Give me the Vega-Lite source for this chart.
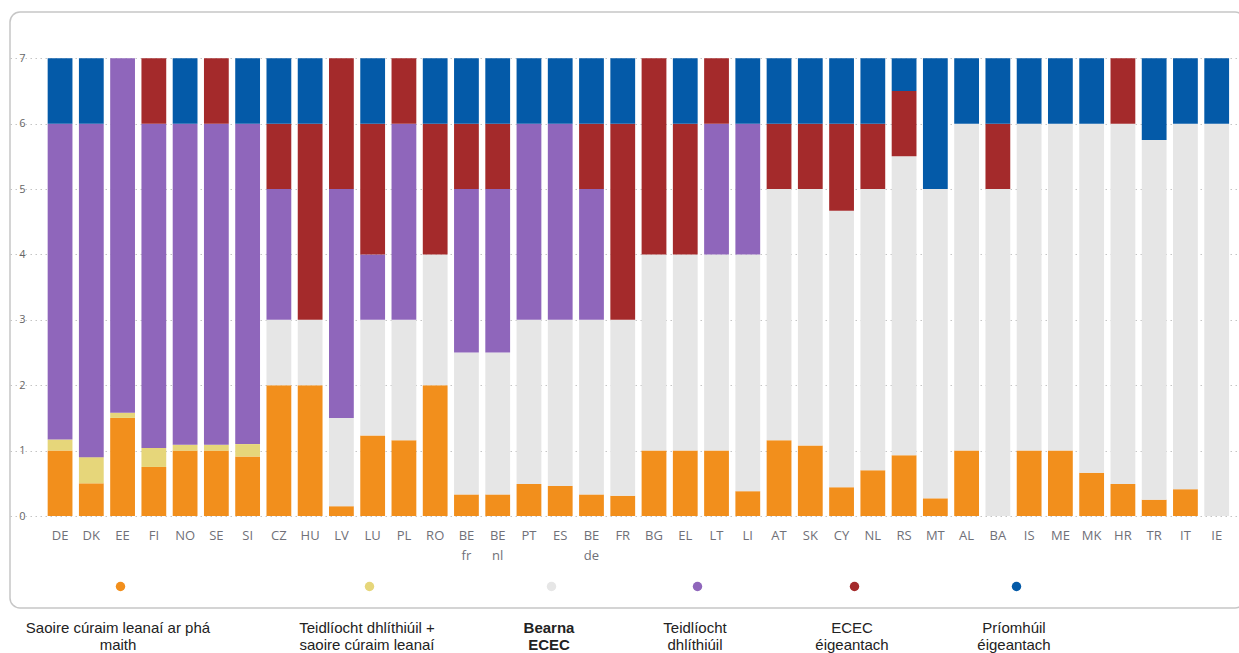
{
  "$schema": "https://vega.github.io/schema/vega-lite/v6.json",
  "width": 1235,
  "height": 596,
  "padding": {"left": 10, "top": 12, "right": 0, "bottom": 0},
  "autosize": {"type": "pad"},
  "background": "white",
  "config": {
    "view": {"stroke": "#c6c6c6", "strokeWidth": 1.5, "cornerRadius": 10},
    "font": "Open Sans"
  },
  "datasets": {
    "cats": [
      {"code": "A", "category": "Saoire cúraim leanaí ar phá maith", "rank": 1},
      {"code": "B", "category": "Teidlíocht dhlíthiúil + saoire cúraim leanaí", "rank": 2},
      {"code": "C", "category": "Bearna ECEC", "rank": 3},
      {"code": "D", "category": "Teidlíocht dhlíthiúil", "rank": 4},
      {"code": "E", "category": "ECEC éigeantach", "rank": 5},
      {"code": "F", "category": "Príomhúil éigeantach", "rank": 6}
    ],
    "segments": [
      {"country": "DE", "code": "A", "value": 1}, {"country": "DE", "code": "B", "value": 0.17}, {"country": "DE", "code": "D", "value": 4.83}, {"country": "DE", "code": "F", "value": 1},
      {"country": "DK", "code": "A", "value": 0.5}, {"country": "DK", "code": "B", "value": 0.4}, {"country": "DK", "code": "D", "value": 5.1}, {"country": "DK", "code": "F", "value": 1},
      {"country": "EE", "code": "A", "value": 1.5}, {"country": "EE", "code": "B", "value": 0.08}, {"country": "EE", "code": "D", "value": 5.42},
      {"country": "FI", "code": "A", "value": 0.75}, {"country": "FI", "code": "B", "value": 0.29}, {"country": "FI", "code": "D", "value": 4.96}, {"country": "FI", "code": "E", "value": 1},
      {"country": "NO", "code": "A", "value": 1}, {"country": "NO", "code": "B", "value": 0.09}, {"country": "NO", "code": "D", "value": 4.91}, {"country": "NO", "code": "F", "value": 1},
      {"country": "SE", "code": "A", "value": 1}, {"country": "SE", "code": "B", "value": 0.09}, {"country": "SE", "code": "D", "value": 4.91}, {"country": "SE", "code": "E", "value": 1},
      {"country": "SI", "code": "A", "value": 0.91}, {"country": "SI", "code": "B", "value": 0.19}, {"country": "SI", "code": "D", "value": 4.9}, {"country": "SI", "code": "F", "value": 1},
      {"country": "CZ", "code": "A", "value": 2}, {"country": "CZ", "code": "C", "value": 1}, {"country": "CZ", "code": "D", "value": 2}, {"country": "CZ", "code": "E", "value": 1}, {"country": "CZ", "code": "F", "value": 1},
      {"country": "HU", "code": "A", "value": 2}, {"country": "HU", "code": "C", "value": 1}, {"country": "HU", "code": "E", "value": 3}, {"country": "HU", "code": "F", "value": 1},
      {"country": "LV", "code": "A", "value": 0.15}, {"country": "LV", "code": "C", "value": 1.35}, {"country": "LV", "code": "D", "value": 3.5}, {"country": "LV", "code": "E", "value": 2},
      {"country": "LU", "code": "A", "value": 1.23}, {"country": "LU", "code": "C", "value": 1.77}, {"country": "LU", "code": "D", "value": 1}, {"country": "LU", "code": "E", "value": 2}, {"country": "LU", "code": "F", "value": 1},
      {"country": "PL", "code": "A", "value": 1.16}, {"country": "PL", "code": "C", "value": 1.84}, {"country": "PL", "code": "D", "value": 3}, {"country": "PL", "code": "E", "value": 1},
      {"country": "RO", "code": "A", "value": 2}, {"country": "RO", "code": "C", "value": 2}, {"country": "RO", "code": "E", "value": 2}, {"country": "RO", "code": "F", "value": 1},
      {"country": "BE fr", "code": "A", "value": 0.33}, {"country": "BE fr", "code": "C", "value": 2.17}, {"country": "BE fr", "code": "D", "value": 2.5}, {"country": "BE fr", "code": "E", "value": 1}, {"country": "BE fr", "code": "F", "value": 1},
      {"country": "BE nl", "code": "A", "value": 0.33}, {"country": "BE nl", "code": "C", "value": 2.17}, {"country": "BE nl", "code": "D", "value": 2.5}, {"country": "BE nl", "code": "E", "value": 1}, {"country": "BE nl", "code": "F", "value": 1},
      {"country": "PT", "code": "A", "value": 0.49}, {"country": "PT", "code": "C", "value": 2.51}, {"country": "PT", "code": "D", "value": 3}, {"country": "PT", "code": "F", "value": 1},
      {"country": "ES", "code": "A", "value": 0.46}, {"country": "ES", "code": "C", "value": 2.54}, {"country": "ES", "code": "D", "value": 3}, {"country": "ES", "code": "F", "value": 1},
      {"country": "BE de", "code": "A", "value": 0.33}, {"country": "BE de", "code": "C", "value": 2.67}, {"country": "BE de", "code": "D", "value": 2}, {"country": "BE de", "code": "E", "value": 1}, {"country": "BE de", "code": "F", "value": 1},
      {"country": "FR", "code": "A", "value": 0.31}, {"country": "FR", "code": "C", "value": 2.69}, {"country": "FR", "code": "E", "value": 3}, {"country": "FR", "code": "F", "value": 1},
      {"country": "BG", "code": "A", "value": 1}, {"country": "BG", "code": "C", "value": 3}, {"country": "BG", "code": "E", "value": 3},
      {"country": "EL", "code": "A", "value": 1}, {"country": "EL", "code": "C", "value": 3}, {"country": "EL", "code": "E", "value": 2}, {"country": "EL", "code": "F", "value": 1},
      {"country": "LT", "code": "A", "value": 1}, {"country": "LT", "code": "C", "value": 3}, {"country": "LT", "code": "D", "value": 2}, {"country": "LT", "code": "E", "value": 1},
      {"country": "LI", "code": "A", "value": 0.38}, {"country": "LI", "code": "C", "value": 3.62}, {"country": "LI", "code": "D", "value": 2}, {"country": "LI", "code": "F", "value": 1},
      {"country": "AT", "code": "A", "value": 1.16}, {"country": "AT", "code": "C", "value": 3.84}, {"country": "AT", "code": "E", "value": 1}, {"country": "AT", "code": "F", "value": 1},
      {"country": "SK", "code": "A", "value": 1.08}, {"country": "SK", "code": "C", "value": 3.92}, {"country": "SK", "code": "E", "value": 1}, {"country": "SK", "code": "F", "value": 1},
      {"country": "CY", "code": "A", "value": 0.44}, {"country": "CY", "code": "C", "value": 4.23}, {"country": "CY", "code": "E", "value": 1.33}, {"country": "CY", "code": "F", "value": 1},
      {"country": "NL", "code": "A", "value": 0.7}, {"country": "NL", "code": "C", "value": 4.3}, {"country": "NL", "code": "E", "value": 1}, {"country": "NL", "code": "F", "value": 1},
      {"country": "RS", "code": "A", "value": 0.93}, {"country": "RS", "code": "C", "value": 4.57}, {"country": "RS", "code": "E", "value": 1}, {"country": "RS", "code": "F", "value": 0.5},
      {"country": "MT", "code": "A", "value": 0.27}, {"country": "MT", "code": "C", "value": 4.73}, {"country": "MT", "code": "F", "value": 2},
      {"country": "AL", "code": "A", "value": 1}, {"country": "AL", "code": "C", "value": 5}, {"country": "AL", "code": "F", "value": 1},
      {"country": "BA", "code": "C", "value": 5}, {"country": "BA", "code": "E", "value": 1}, {"country": "BA", "code": "F", "value": 1},
      {"country": "IS", "code": "A", "value": 1}, {"country": "IS", "code": "C", "value": 5}, {"country": "IS", "code": "F", "value": 1},
      {"country": "ME", "code": "A", "value": 1}, {"country": "ME", "code": "C", "value": 5}, {"country": "ME", "code": "F", "value": 1},
      {"country": "MK", "code": "A", "value": 0.66}, {"country": "MK", "code": "C", "value": 5.34}, {"country": "MK", "code": "F", "value": 1},
      {"country": "HR", "code": "A", "value": 0.49}, {"country": "HR", "code": "C", "value": 5.51}, {"country": "HR", "code": "E", "value": 1},
      {"country": "TR", "code": "A", "value": 0.25}, {"country": "TR", "code": "C", "value": 5.5}, {"country": "TR", "code": "F", "value": 1.25},
      {"country": "IT", "code": "A", "value": 0.41}, {"country": "IT", "code": "C", "value": 5.59}, {"country": "IT", "code": "F", "value": 1},
      {"country": "IE", "code": "C", "value": 6}, {"country": "IE", "code": "F", "value": 1}
    ]
  },
  "data": {"name": "segments"},
  "transform": [
    {"lookup": "code", "from": {"data": {"name": "cats"}, "key": "code", "fields": ["category", "rank"]}}
  ],
  "mark": {"type": "bar"},
  "encoding": {
    "x": {
      "field": "country",
      "type": "nominal",
      "sort": null,
      "scale": {"paddingInner": 0.207, "paddingOuter": 0.857, "align": 0.703},
      "axis": {
        "title": null,
        "orient": "bottom",
        "offset": -92,
        "labelAngle": 0,
        "domain": false,
        "ticks": false,
        "labelPadding": 13,
        "labelFont": "Open Sans",
        "labelFontSize": 13,
        "labelColor": "#707078",
        "labelLineHeight": 20,
        "labelExpr": "split(datum.label, ' ')"
      }
    },
    "y": {
      "field": "value",
      "type": "quantitative",
      "stack": "zero",
      "scale": {"domain": [-1.407, 7.708], "nice": false, "zero": false},
      "axis": {
        "title": null,
        "values": [0, 1, 2, 3, 4, 5, 6, 7],
        "offset": -23,
        "domain": false,
        "ticks": false,
        "labelPadding": 8,
        "labelFont": "Open Sans",
        "labelFontSize": 11,
        "labelColor": "#666666",
        "grid": true,
        "gridDash": [1.5, 3.5],
        "gridColor": "#c4c4c4"
      }
    },
    "color": {
      "field": "category",
      "type": "nominal",
      "scale": {
        "domain": ["Saoire cúraim leanaí ar phá maith", "Teidlíocht dhlíthiúil + saoire cúraim leanaí", "Bearna ECEC", "Teidlíocht dhlíthiúil", "ECEC éigeantach", "Príomhúil éigeantach"],
        "range": ["#F28F1C", "#E6D67A", "#E6E6E6", "#8F66BB", "#A42A2B", "#045AA8"]
      },
      "legend": {
        "orient": "none",
        "legendX": 103,
        "legendY": 567,
        "direction": "horizontal",
        "columns": 6,
        "columnPadding": 88,
        "title": null,
        "symbolType": "circle",
        "symbolSize": 90,
        "symbolStrokeWidth": 0,
        "labelFont": "Liberation Sans",
        "labelFontSize": 15,
        "labelColor": "#222222",
        "labelAlign": "center",
        "labelBaseline": "top",
        "labelLineHeight": 18,
        "labelLimit": 0,
        "labelExpr": "datum.value == 'Saoire cúraim leanaí ar phá maith' ? ['Saoire cúraim leanaí ar phá', 'maith'] : datum.value == 'Teidlíocht dhlíthiúil + saoire cúraim leanaí' ? ['Teidlíocht dhlíthiúil +', 'saoire cúraim leanaí'] : datum.value == 'Bearna ECEC' ? ['Bearna', 'ECEC'] : datum.value == 'Teidlíocht dhlíthiúil' ? ['Teidlíocht', 'dhlíthiúil'] : datum.value == 'ECEC éigeantach' ? ['ECEC', 'éigeantach'] : ['Príomhúil', 'éigeantach']",
        "encode": {
          "labels": {
            "update": {
              "x": {"value": 5},
              "y": {"value": 42},
              "fontWeight": {"signal": "datum.value == 'Bearna ECEC' ? 'bold' : 'normal'"}
            }
          }
        }
      }
    },
    "order": {"field": "rank", "type": "quantitative"}
  }
}
